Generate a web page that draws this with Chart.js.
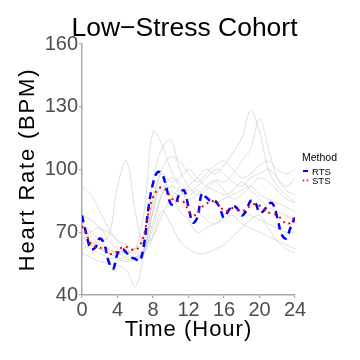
<!DOCTYPE html>
<html>
<head>
<meta charset="utf-8">
<script src="https://cdn.jsdelivr.net/npm/chart.js@4.4.1/dist/chart.umd.min.js"></script>
<style>
html,body{margin:0;padding:0;background:#fff;}
#c{display:block;}
</style>
</head>
<body>
<canvas id="c" width="360" height="360"></canvas>
<script>
const chartTitle = "Low\u2212Stress Cohort";
const xTitle = "Time (Hour)";
const yTitle = "Heart Rate (BPM)";
const legendTitle = "Method";
const xTicks = [0, 4, 8, 12, 16, 20, 24];
const yTicks = [40, 70, 100, 130, 160];

const halfHours = [0,0.5,1,1.5,2,2.5,3,3.5,4,4.5,5,5.5,6,6.5,7,7.5,8,8.5,9,9.5,10,10.5,11,11.5,12,12.5,13,13.5,14,14.5,15,15.5,16,16.5,17,17.5,18,18.5,19,19.5,20,20.5,21,21.5,22,22.5,23,23.5,24];
const rts = [78,69,62,62.7,67,64.5,56,52.5,59.7,62,60.3,58,57.3,56.3,64.5,82,93.3,98.7,98,91.5,83.6,83.6,88.5,90,82,74.7,77,88.5,86.7,85,85,82,77,80.3,82.7,81.3,78,80.3,85,84.3,79.5,80.3,83.6,83.6,77,69,67,72.3,77];
const sts = [73,69,64.5,63,62.7,61.5,59.8,59.8,61,62.7,63,62,61.5,63.5,69,79.5,86.7,90.2,91.5,90,86.7,85,85,84.3,80.3,78.3,78.7,82,83.5,85,84.3,82.7,80.3,80.3,81.6,81,80.3,81,82.7,83.5,82.7,81,79.5,79,78,76.3,74,74.7,78];

const hours = [0,1,2,3,4,5,6,7,8,9,10,11,12,13,14,15,16,17,18,19,20,21,22,23,24];
const subject1 = [70,66,62,60,58,57,58,62,80,95,90,88,92,96,100,98,102,108,115,128,118,100,92,88,84];
const subject2 = [65,62,60,58,57,56,57,60,75,88,92,90,86,88,92,95,94,98,104,110,124,110,96,90,88];
const subject3 = [72,68,64,62,60,60,62,80,118,112,100,92,88,90,86,84,86,88,90,92,88,86,84,82,80];
const subject4 = [68,64,62,60,60,61,62,70,95,110,114,100,92,88,90,94,90,86,88,92,96,94,90,86,84];
const subject5 = [62,64,66,68,92,104,80,64,68,78,86,90,84,80,76,74,78,82,80,78,76,74,72,70,70];
const subject6 = [60,58,56,55,54,52,44,60,80,92,88,80,76,70,72,74,76,78,74,72,70,68,66,64,62];
const subject7 = [92,88,80,72,66,62,60,62,72,88,96,94,90,92,96,100,98,94,92,96,98,100,96,92,96];
const subject8 = [74,70,66,62,60,58,58,60,68,80,74,66,62,60,60,62,64,68,72,76,78,72,66,62,60];
const subject9 = [66,70,72,66,62,60,58,62,86,98,94,96,100,96,92,90,88,90,94,90,86,82,80,78,76];
const subject10 = [78,76,72,70,66,64,62,66,84,100,106,104,98,94,98,102,104,100,96,98,102,104,100,98,100];
const subjects = [subject1,subject2,subject3,subject4,subject5,subject6,subject7,subject8,subject9,subject10];

const FONT = "'Liberation Sans', Arial, Helvetica, sans-serif";

const toPts = (xs, ys) => xs.map((x, i) => ({x: x, y: ys[i]}));

const datasets = [];
datasets.push({label: 'STS', data: toPts(halfHours, sts), borderColor: '#ff0000', borderWidth: 2, borderDash: [2, 4], pointRadius: 0, tension: 0.4, order: 0, fill: false});
datasets.push({label: 'RTS', data: toPts(halfHours, rts), borderColor: '#0000ff', borderWidth: 2.5, borderDash: [7, 5], pointRadius: 0, tension: 0.4, order: 1, fill: false});
subjects.forEach((s, i) => {
  datasets.push({label: 'S' + (i + 1), data: toPts(hours, s), borderColor: 'rgba(185,185,185,0.5)', borderWidth: 0.9, pointRadius: 0, tension: 0.4, order: 2 + i, fill: false});
});

const textPlugin = {
  id: 'texts',
  afterDraw(chart) {
    const ctx = chart.ctx;
    const a = chart.chartArea;
    ctx.save();
    ctx.fillStyle = '#000';
    // main title
    ctx.font = '26.5px ' + FONT;
    ctx.textAlign = 'center';
    ctx.textBaseline = 'alphabetic';
    ctx.fillText(chartTitle, 184.5, 36);
    // x title
    ctx.font = '22px ' + FONT;
    ctx.letterSpacing = '1px';
    ctx.fillText(xTitle, (a.left + a.right) / 2, 336);
    // y title
    ctx.save();
    ctx.translate(34, (a.top + a.bottom) / 2);
    ctx.rotate(-Math.PI / 2);
    ctx.font = '22px ' + FONT;
    ctx.letterSpacing = '1.8px';
    ctx.fillText(yTitle, 0, 0);
    ctx.restore();
    ctx.letterSpacing = '0px';
    // legend
    ctx.textAlign = 'left';
    ctx.textBaseline = 'middle';
    ctx.font = '10.5px ' + FONT;
    ctx.fillText(legendTitle, 302, 158);
    ctx.font = '9.5px ' + FONT;
    ctx.fillText('RTS', 312, 172);
    ctx.fillText('STS', 312, 181);
    ctx.strokeStyle = '#0000ff';
    ctx.lineWidth = 2;
    ctx.beginPath(); ctx.moveTo(303, 171); ctx.lineTo(308, 171); ctx.stroke();
    ctx.fillStyle = '#ff0000';
    ctx.beginPath(); ctx.arc(303.5, 180.5, 0.9, 0, Math.PI * 2); ctx.fill();
    ctx.beginPath(); ctx.arc(307.5, 180.5, 0.9, 0, Math.PI * 2); ctx.fill();
    ctx.restore();
  }
};

new Chart(document.getElementById('c'), {
  type: 'line',
  data: {datasets: datasets},
  options: {
    responsive: false,
    animation: false,
    devicePixelRatio: 1,
    layout: {padding: {left: 0, right: 65, top: 44, bottom: 0}},
    plugins: {legend: {display: false}, title: {display: false}, tooltip: {enabled: false}},
    scales: {
      x: {
        type: 'linear', min: 0, max: 24,
        afterFit(s) { s.height = 65; },
        afterBuildTicks(s) { s.ticks = xTicks.map(v => ({value: v})); },
        grid: {display: true, drawOnChartArea: false, drawTicks: true, tickLength: 3, color: '#aaaaaa', lineWidth: 1.2},
        border: {display: true, color: '#aaaaaa', width: 1.5},
        ticks: {color: '#4d4d4d', font: {size: 20, family: FONT}, padding: 0, maxRotation: 0, autoSkip: false}
      },
      y: {
        type: 'linear', min: 40, max: 160,
        afterFit(s) { s.width = 82; },
        afterBuildTicks(s) { s.ticks = yTicks.map(v => ({value: v})); },
        grid: {display: true, drawOnChartArea: false, drawTicks: true, tickLength: 3, color: '#aaaaaa', lineWidth: 1.2},
        border: {display: true, color: '#aaaaaa', width: 1.5},
        ticks: {color: '#4d4d4d', font: {size: 20, family: FONT}, padding: 1, autoSkip: false}
      }
    }
  },
  plugins: [textPlugin]
});
</script>
</body>
</html>
